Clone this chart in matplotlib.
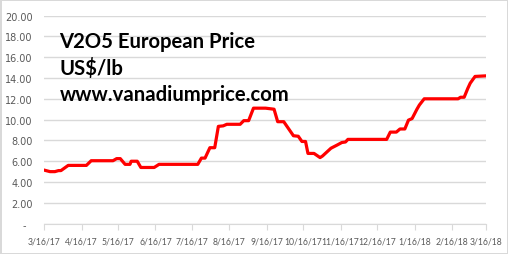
import numpy as np
import pandas as pd
import matplotlib
matplotlib.use("Agg")
import matplotlib.pyplot as plt
import matplotlib.dates as mdates
from matplotlib.ticker import FuncFormatter

# V2O5 price (breakpoints of the line)
dates = ["3/16/17", "3/21/17", "3/25/17", "3/28/17", "3/30/17", "4/5/17", "4/20/17",
         "4/24/17", "5/12/17", "5/15/17", "5/18/17", "5/22/17", "5/26/17", "5/27/17",
         "6/1/17", "6/4/17", "6/15/17", "6/19/17", "7/21/17", "7/24/17", "7/27/17",
         "7/31/17", "8/4/17", "8/7/17", "8/11/17", "8/14/17", "8/25/17", "8/28/17",
         "9/1/17", "9/5/17", "9/15/17", "9/22/17", "9/25/17", "9/30/17", "10/8/17",
         "10/12/17", "10/15/17", "10/18/17", "10/20/17", "10/25/17", "10/30/17",
         "11/1/17", "11/8/17", "11/13/17", "11/17/17", "11/20/17", "11/22/17",
         "12/24/17", "12/27/17", "1/1/18", "1/4/18", "1/8/18", "1/11/18", "1/14/18",
         "1/18/18", "1/20/18", "1/24/18", "2/21/18", "2/23/18", "2/26/18", "3/1/18",
         "3/3/18", "3/7/18", "3/15/18"]
prices = [5.15, 5.0, 5.0, 5.1, 5.1, 5.6, 5.6,
          6.05, 6.05, 6.25, 6.25, 5.7, 5.7, 6.0,
          6.0, 5.4, 5.4, 5.7, 5.7, 6.3, 6.3,
          7.3, 7.3, 9.35, 9.4, 9.55, 9.55, 9.9,
          9.9, 11.1, 11.1, 11.0, 9.8, 9.8, 8.45,
          8.4, 7.9, 7.9, 6.75, 6.75, 6.35,
          6.5, 7.25, 7.55, 7.8, 7.85, 8.1,
          8.1, 8.8, 8.8, 9.1, 9.1, 9.95, 10.1,
          11.0, 11.4, 12.0, 12.0, 12.15, 12.15, 13.0,
          13.5, 14.15, 14.2]
yticks = [0, 2, 4, 6, 8, 10, 12, 14, 16, 18, 20]
x_start, x_end = "3/16/17", "3/16/18"

dt = pd.to_datetime(dates, format="%m/%d/%y")


def date_label(v, pos):
    d = mdates.num2date(v)
    return f"{d.month}/{d.day}/{d:%y}"


fig = plt.figure(figsize=(5.08, 2.55), dpi=100)
fig.patch.set_edgecolor("#d9d9d9")
fig.patch.set_linewidth(2)
ax = fig.add_axes([0.0866, 0.119, 0.870, 0.816])

ax.plot(dt, prices, color="#ff0000", lw=2.3, solid_joinstyle="round")

ax.set_ylim(0, 20)
ax.set_yticks(yticks)
ax.yaxis.set_major_formatter(FuncFormatter(lambda v, p: "-  " if v == 0 else f"{v:.2f}"))
ax.set_xlim(pd.to_datetime(x_start, format="%m/%d/%y"), pd.to_datetime(x_end, format="%m/%d/%y"))
ax.xaxis.set_major_locator(mdates.MonthLocator(bymonthday=16))
ax.xaxis.set_major_formatter(FuncFormatter(date_label))

ax.grid(axis="y", color="#d9d9d9", lw=1)
ax.set_axisbelow(True)
for s in ["top", "right", "left"]:
    ax.spines[s].set_visible(False)
ax.spines["bottom"].set_color("#d9d9d9")
ax.tick_params(axis="y", length=0, labelsize=7, labelcolor="#595959", pad=8)
ax.tick_params(axis="x", length=4, color="#d9d9d9", labelcolor="#595959", pad=5)
for lab in ax.get_xticklabels():
    lab.set_family("Lato")
    lab.set_fontsize(6.2)

txt = "V2O5 European Price\nUS$/lb\nwww.vanadiumprice.com"
ax.text(0.035, 0.925, txt, transform=ax.transAxes, fontsize=14.6, fontweight="bold",
        family="Lato", va="top", ha="left", linespacing=1.36)

fig.savefig("out.png", dpi=100)
